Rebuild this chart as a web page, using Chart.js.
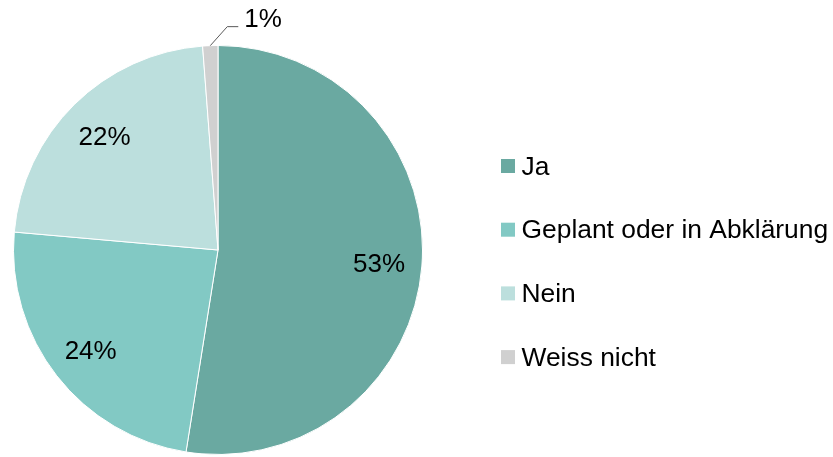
<!DOCTYPE html>
<html>
<head>
<meta charset="utf-8">
<script src="https://cdn.jsdelivr.net/npm/chart.js@4"></script>
<style>
  html, body { margin: 0; padding: 0; background: #fff; }
  #wrap { width: 833px; height: 457px; position: relative; }
</style>
</head>
<body>
<div id="wrap"><canvas id="pie-chart"></canvas></div>
<script>
const categories = ['Ja', 'Geplant oder in Abklärung', 'Nein', 'Weiss nicht'];
const shares = [52.5, 23.9, 22.4, 1.2];
const colors = ['#6aa9a1', '#82c9c4', '#bcdfdd', '#d0d0d0'];

const fontFamily = '"Liberation Sans", Arial, sans-serif';

// draws the percent labels and the legend on the right
const labelPlugin = {
  id: 'pieLabels',
  afterDatasetsDraw(chart) {
    const ctx = chart.ctx;
    const meta = chart.getDatasetMeta(0);
    ctx.save();
    ctx.font = '26px ' + fontFamily;
    ctx.fillStyle = '#000';

    meta.data.forEach((arc, i) => {
      const text = Math.round(shares[i]) + '%';
      const mid = (arc.startAngle + arc.endAngle) / 2;
      if (shares[i] < 3) {
        // small slice: label outside with leader line
        const ex = arc.x + arc.outerRadius * Math.cos(mid);
        const ey = arc.y + arc.outerRadius * Math.sin(mid);
        const bx = ex + 17;
        const by = ey - 19;
        ctx.strokeStyle = '#595959';
        ctx.lineWidth = 1;
        ctx.beginPath();
        ctx.moveTo(ex, ey);
        ctx.lineTo(bx, by);
        ctx.lineTo(bx + 11, by);
        ctx.stroke();
        ctx.textAlign = 'left';
        ctx.textBaseline = 'alphabetic';
        ctx.fillText(text, bx + 17, by);
      } else {
        const r = arc.outerRadius * 0.79;
        ctx.textAlign = 'center';
        ctx.textBaseline = 'alphabetic';
        ctx.fillText(text, arc.x + r * Math.cos(mid), arc.y + r * Math.sin(mid) + 9.5);
      }
    });

    // legend
    ctx.font = '26.4px ' + fontFamily;
    const left = 501;
    const top = 166;
    const step = 63.7;
    categories.forEach((name, i) => {
      const cy = top + i * step;
      ctx.fillStyle = colors[i];
      ctx.fillRect(left, cy - 7, 14, 14);
      ctx.fillStyle = '#000';
      ctx.textAlign = 'left';
      ctx.textBaseline = 'alphabetic';
      ctx.fillText(name, left + 20.5, cy + 8.5);
    });
    ctx.restore();
  }
};

new Chart(document.getElementById('pie-chart'), {
  type: 'pie',
  data: {
    labels: categories,
    datasets: [{
      data: shares,
      backgroundColor: colors,
      borderColor: '#ffffff',
      borderWidth: 1,
    }],
  },
  options: {
    responsive: true,
    maintainAspectRatio: false,
    animation: false,
    layout: {
      padding: { left: 13, top: 45, bottom: 2, right: 410 }
    },
    plugins: {
      legend: { display: false },
      tooltip: { enabled: false }
    }
  },
  plugins: [labelPlugin]
});
</script>
</body>
</html>
